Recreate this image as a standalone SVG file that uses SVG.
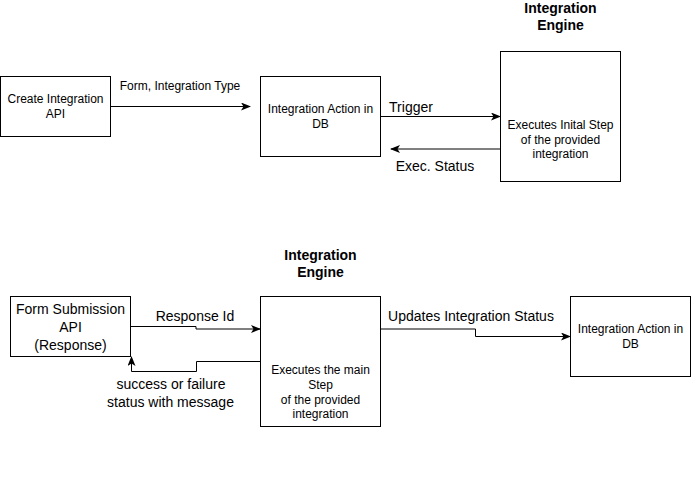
<svg xmlns="http://www.w3.org/2000/svg" width="691" height="478" viewBox="0 0 691 478">
<style>
.box{fill:#fff;stroke:#000;stroke-width:1}
.t12{font-family:"Liberation Sans",Arial,sans-serif;font-size:12px;fill:#000;text-anchor:middle}
.t14{font-family:"Liberation Sans",Arial,sans-serif;font-size:14px;fill:#000;text-anchor:middle}
.tb{font-family:"Liberation Sans",Arial,sans-serif;font-size:14px;font-weight:bold;fill:#000;text-anchor:middle}
.edge{fill:none;stroke:#000;stroke-width:1}
</style>
<defs>
<marker id="arr" viewBox="0 0 10 8" refX="9" refY="4" markerWidth="10" markerHeight="8" markerUnits="userSpaceOnUse" orient="auto">
<path d="M0,0 L10,4 L0,8 L2.5,4 Z" fill="#000"/>
</marker>
</defs>
<rect width="691" height="478" fill="#fff"/>
<g id="connectors">
<path class="edge" d="M110.5,106.5 H250" marker-end="url(#arr)"/>
<path class="edge" d="M380.5,116.5 H500" marker-end="url(#arr)"/>
<path class="edge" d="M500.5,149 H391" marker-end="url(#arr)"/>
<path class="edge" d="M130.5,326.5 H196 V329 H260" marker-end="url(#arr)"/>
<path class="edge" d="M260.5,361.5 H196.5 V371.5 H131.5 V357" marker-end="url(#arr)"/>
<path class="edge" d="M380.5,329 H475.5 V336.5 H570" marker-end="url(#arr)"/>
</g>
<g id="labels">
<text class="t12" x="180" y="90">Form, Integration Type</text>
<text class="t14" x="411" y="111.5">Trigger</text>
<text class="t14" x="435" y="170.5">Exec. Status</text>
<text class="t14" x="195" y="320.7">Response Id</text>
<text class="t14" x="171" y="389">success or failure</text>
<text class="t14" x="170.5" y="406.7">status with message</text>
<text class="t14" x="471" y="320.7">Updates Integration Status</text>
</g>
<g id="create-integration-api">
<rect class="box" x="0.5" y="76.5" width="110" height="60"/>
<text class="t12" x="55.5" y="103">Create Integration</text>
<text class="t12" x="55.5" y="118">API</text>
</g>
<g id="integration-action-db-top">
<rect class="box" x="260.5" y="76.5" width="120" height="80"/>
<text class="t12" x="320.5" y="113">Integration Action in</text>
<text class="t12" x="320.5" y="128">DB</text>
</g>
<g id="integration-engine-top">
<text class="tb" x="560.5" y="13.3">Integration</text>
<text class="tb" x="560.5" y="30">Engine</text>
<rect class="box" x="500.5" y="51.5" width="120" height="130"/>
<text class="t12" x="560.5" y="129.3">Executes Inital Step</text>
<text class="t12" x="560.5" y="143.8">of the provided</text>
<text class="t12" x="560.5" y="158.3">integration</text>
</g>
<g id="form-submission-api">
<rect class="box" x="10.5" y="296.5" width="120" height="60"/>
<text class="t14" x="70.5" y="314">Form Submission</text>
<text class="t14" x="70.5" y="332">API</text>
<text class="t14" x="70.5" y="350">(Response)</text>
</g>
<g id="integration-engine-bottom">
<text class="tb" x="320.5" y="260">Integration</text>
<text class="tb" x="320.5" y="276.7">Engine</text>
<rect class="box" x="260.5" y="296.5" width="120" height="130"/>
<text class="t12" x="320.5" y="374.3">Executes the main</text>
<text class="t12" x="320.5" y="388.6">Step</text>
<text class="t12" x="320.5" y="403.6">of the provided</text>
<text class="t12" x="320.5" y="418.3">integration</text>
</g>
<g id="integration-action-db-bottom">
<rect class="box" x="570.5" y="296.5" width="120" height="80"/>
<text class="t12" x="630.5" y="332.6">Integration Action in</text>
<text class="t12" x="630.5" y="347.6">DB</text>
</g>
</svg>
